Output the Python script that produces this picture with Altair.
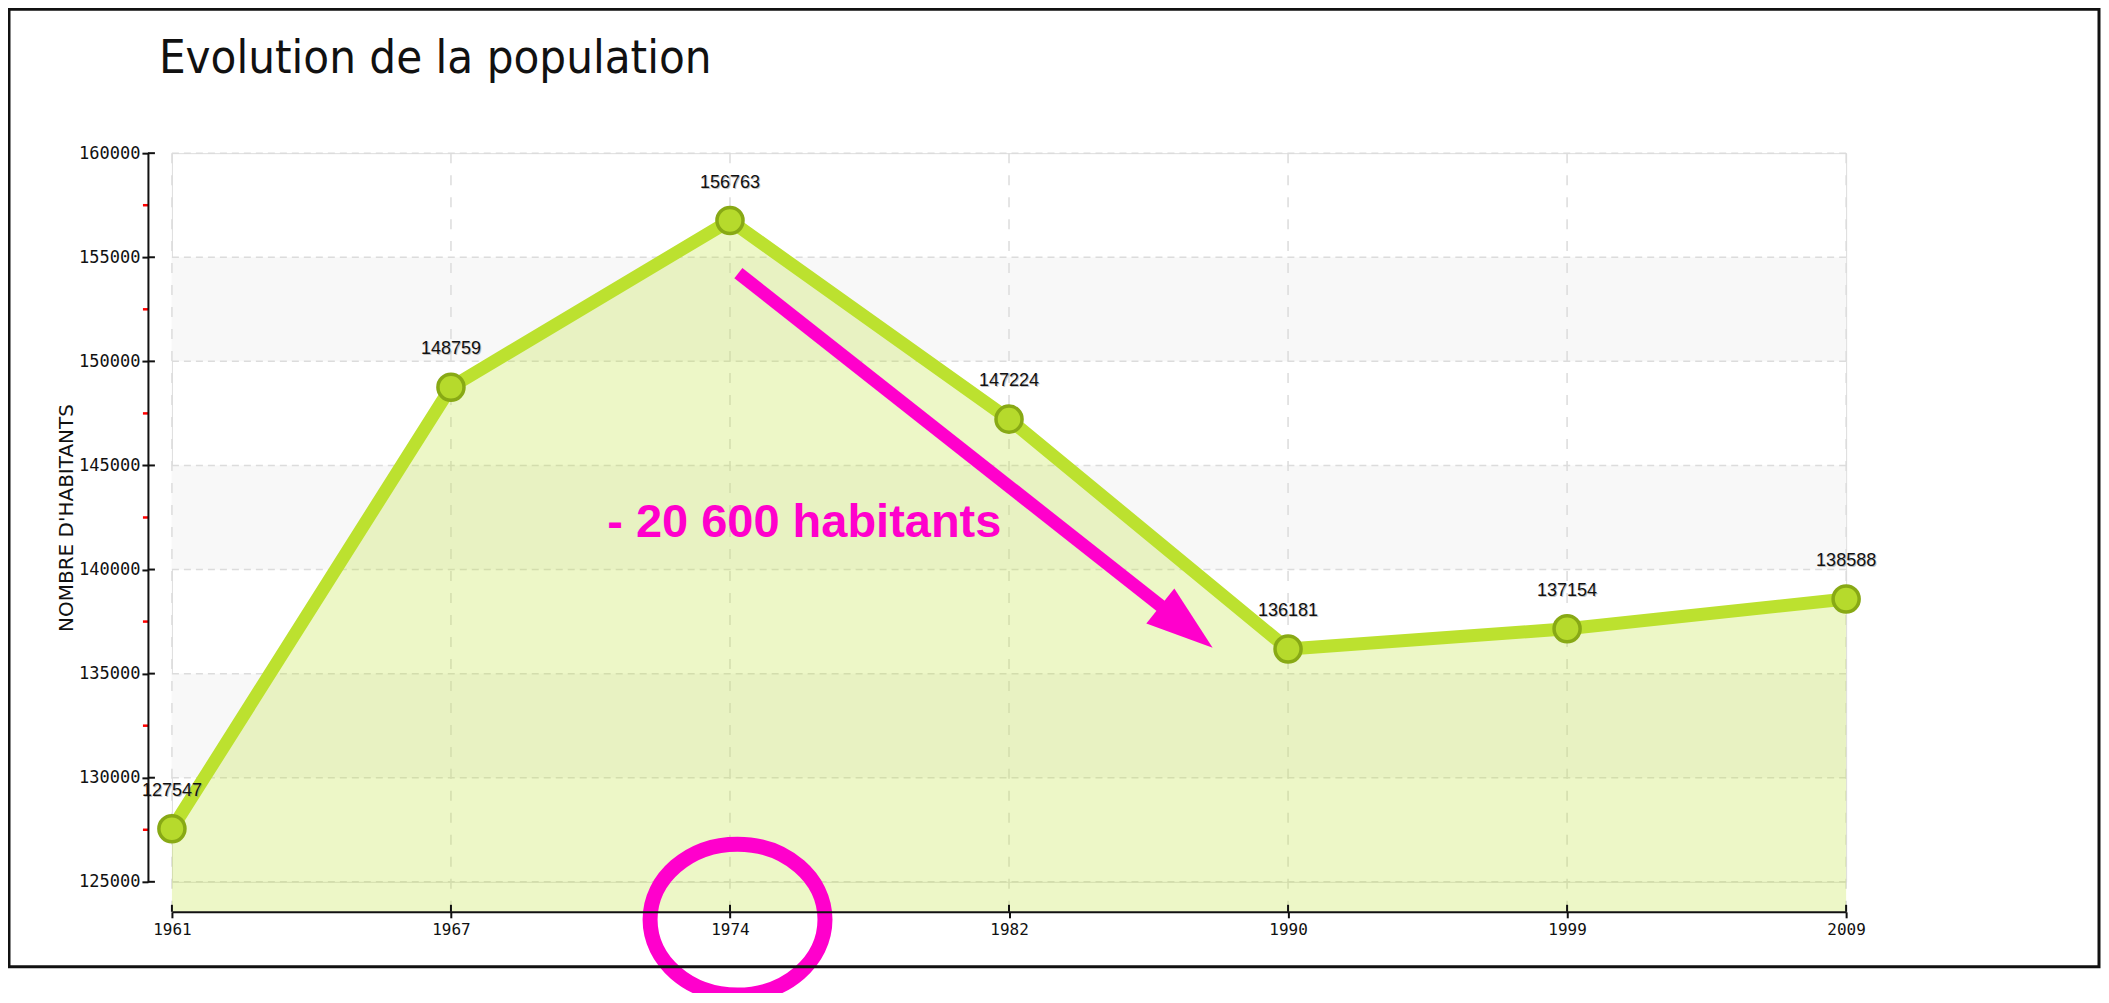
import altair as alt
import pandas as pd

# ---------------- data ----------------
years = ["1961", "1967", "1974", "1982", "1990", "1999", "2009"]
population = [127547, 148759, 156763, 147224, 136181, 137154, 138588]

y_ticks = [125000, 130000, 135000, 140000, 145000, 150000, 155000, 160000]
minor_ticks = [127500, 132500, 137500, 142500, 147500, 152500, 157500]
band_lo = [130000, 140000, 150000]
band_hi = [135000, 145000, 155000]

title_text = "Evolution de la population"
y_title = "NOMBRE D'HABITANTS"
note_text = "- 20 600 habitants"

# annotation anchors, in data units (x = year index, y = population)
arrow_x = [2.03, 3.557]
arrow_y = [154240, 138112]
head_x = [3.636]
head_y = [137248]
ellipse_x = [2.027]
ellipse_y = [123184]
note_x = [1.56]
note_y = [141568]

# ---------------- style ----------------
W, H = 1675, 729
GAP_X = 30     # x axis below plot
GAP_Y = 24     # y axis left of plot
LINE = "#bce12f"
PT_FILL = "#b6da2c"
PT_STROKE = "#88a915"
MAGENTA = "#ff00cc"
GRID = "#dcdcdc"
MONO = "DejaVu Sans Mono"

idx = list(range(len(years)))
df = pd.DataFrame({"i": idx, "year": years, "pop": population})
label_expr = "[" + ",".join("'%s'" % y for y in years) + "][datum.value]"

xs = alt.Scale(domain=[0, len(years) - 1], nice=False, zero=False)
ys = alt.Scale(domain=[y_ticks[0], y_ticks[-1]], nice=False, zero=False)

x_axis = alt.Axis(
    values=idx, labelExpr=label_expr, offset=GAP_X, title=None, grid=False,
    domainColor="#111", domainWidth=2, tickColor="#111", tickWidth=2, tickSize=6,
    labelFont=MONO, labelFontSize=16, labelColor="#111", labelPadding=4,
    labelFlush=False, labelOverlap=False, zindex=1,
)
y_axis = alt.Axis(
    values=y_ticks, offset=GAP_Y, title=y_title, grid=False, format="d",
    domainColor="#111", domainWidth=2, tickColor="#111", tickWidth=2, tickSize=6,
    labelFont=MONO, labelFontSize=17, labelColor="#111", labelPadding=2,
    labelOverlap=False,
    titleFont="DejaVu Sans", titleFontSize=20, titleFontWeight="normal",
    titleColor="#111", titlePadding=2, zindex=1,
)


def X(field):
    return alt.X(field, scale=xs, axis=x_axis)


def Y(field, **kw):
    return alt.Y(field, scale=ys, axis=y_axis, **kw)


bands = alt.Chart(pd.DataFrame({"lo": band_lo, "hi": band_hi})).mark_rect(
    color="#f8f8f8"
).encode(y=Y("lo:Q"), y2="hi:Q", x=alt.value(0), x2=alt.value(W))

hgrid = alt.Chart(pd.DataFrame({"v": y_ticks})).mark_rule(
    color=GRID, strokeWidth=1.5, strokeDash=[7, 5]
).encode(y=Y("v:Q"), x=alt.value(0), x2=alt.value(W))

vgrid = alt.Chart(pd.DataFrame({"i": idx})).mark_rule(
    color=GRID, strokeWidth=1.5, strokeDash=[10, 12]
).encode(x=X("i:Q"), y=alt.value(0), y2=alt.value(H + GAP_X))

area = alt.Chart(df).mark_area(color=LINE, opacity=0.27).encode(
    x=X("i:Q"), y=Y("pop:Q", stack=None), y2=alt.value(H + GAP_X)
)

line = alt.Chart(df).mark_line(color=LINE, strokeWidth=13).encode(
    x=X("i:Q"), y=Y("pop:Q")
)

points = alt.Chart(df).mark_circle(
    size=680, color=PT_FILL, stroke=PT_STROKE, strokeWidth=3.5, opacity=1
).encode(x=X("i:Q"), y=Y("pop:Q"))

label_shadow = alt.Chart(df).mark_text(
    dy=-37, dx=1, font="Liberation Sans", fontSize=18, color="#888", opacity=0.5
).encode(x=X("i:Q"), y=Y("pop:Q"), text="pop:Q")

labels = alt.Chart(df).mark_text(
    dy=-38, font="Liberation Sans", fontSize=18, color="#111"
).encode(x=X("i:Q"), y=Y("pop:Q"), text="pop:Q")

# axis decorations: inward halves of the ticks and red minor ticks
x_up = alt.Chart(pd.DataFrame({"i": idx})).mark_rule(color="#111", strokeWidth=2).encode(
    x=X("i:Q"), y=alt.value(H + GAP_X - 7), y2=alt.value(H + GAP_X)
)
y_in = alt.Chart(pd.DataFrame({"v": y_ticks})).mark_rule(color="#111", strokeWidth=2).encode(
    y=Y("v:Q"), x=alt.value(-GAP_Y), x2=alt.value(-GAP_Y + 7)
)
y_minor = alt.Chart(pd.DataFrame({"v": minor_ticks})).mark_rule(color="#ff0000", strokeWidth=2.5).encode(
    y=Y("v:Q"), x=alt.value(-GAP_Y - 5), x2=alt.value(-GAP_Y + 1)
)

# annotations
arrow = alt.Chart(pd.DataFrame({"x": arrow_x, "y": arrow_y})).mark_line(
    color=MAGENTA, strokeWidth=13, strokeCap="butt"
).encode(x=X("x:Q"), y=Y("y:Q"))

head = alt.Chart(pd.DataFrame({"x": head_x, "y": head_y})).mark_point(
    shape="M 1 0 L -1 -0.67 L -1 0.67 Z", size=4489, filled=True,
    color=MAGENTA, opacity=1, angle=38.6,
).encode(x=X("x:Q"), y=Y("y:Q"))

note = alt.Chart(pd.DataFrame({"x": note_x, "y": note_y, "t": [note_text]})).mark_text(
    align="left", baseline="alphabetic", font="Liberation Sans", fontWeight="bold",
    fontSize=47, color=MAGENTA,
).encode(x=X("x:Q"), y=Y("y:Q"), text="t:N")

ellipse = alt.Chart(pd.DataFrame({"x": ellipse_x, "y": ellipse_y})).mark_point(
    shape="M -1 0 A 1 0.863 0 1 0 1 0 A 1 0.863 0 1 0 -1 0 Z", size=30625,
    filled=False, color=MAGENTA, strokeWidth=15, opacity=1,
).encode(x=X("x:Q"), y=Y("y:Q"))

frame = alt.Chart(pd.DataFrame({"a": [0]})).mark_rect(
    fillOpacity=0, stroke="#111", strokeWidth=3
).encode(x=alt.value(-163), x2=alt.value(1928), y=alt.value(-144), y2=alt.value(814))

title = alt.Chart(pd.DataFrame({"t": [title_text]})).mark_text(
    align="left", baseline="alphabetic",
    font="DejaVu Sans Condensed, sans-serif",
    fontSize=47, color="#111",
).encode(x=alt.value(-13), y=alt.value(-80), text="t:N")

chart = alt.layer(
    bands, hgrid, vgrid, area, line, points, label_shadow, labels,
    x_up, y_in, y_minor, arrow, head, note, ellipse, frame, title,
).properties(
    width=W, height=H,
    autosize=alt.AutoSizeParams(type="none"),
    padding={"left": 164, "top": 145, "right": 255, "bottom": 111},
).configure_view(stroke=None).configure(background="white")

chart.save("out.html", embed_options={"renderer": "svg", "actions": False})
